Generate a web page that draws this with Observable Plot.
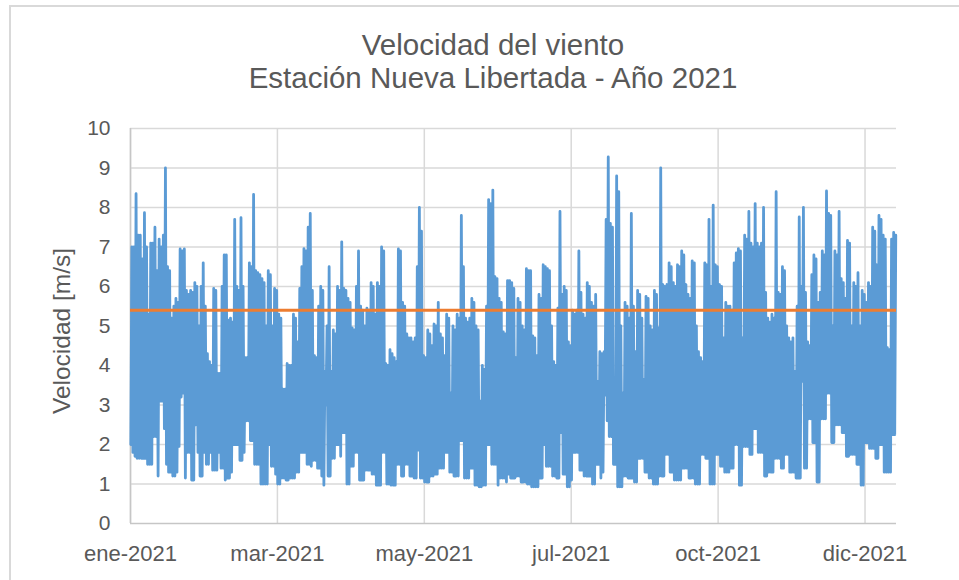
<!DOCTYPE html>
<html>
<head>
<meta charset="utf-8">
<script src="https://cdn.jsdelivr.net/npm/d3@7"></script>
<script src="https://cdn.jsdelivr.net/npm/@observablehq/plot@0.6"></script>
<style>
  html, body { margin: 0; padding: 0; background: #ffffff; }
  #wrap { position: relative; width: 959px; height: 580px; overflow: hidden; font-family: "Liberation Sans", Arial, sans-serif; }
  #frame { position: absolute; left: 9px; top: 5px; width: 1000px; height: 700px; border-left: 2px solid #d9d9d9; border-top: 2px solid #d9d9d9; }
  #title { position: absolute; left: 0; top: 28px; width: 986px; text-align: center; color: #595959; font-size: 29.5px; line-height: 33px; }
  #chart { position: absolute; left: 0; top: 0; }
</style>
</head>
<body>
<div id="wrap">
  <div id="frame"></div>
  <div id="chart"></div>
  <div id="title">Velocidad del viento<br>Estación Nueva Libertada - Año 2021</div>
</div>
<script>
// ---- data ----
const year = 2021;
// daily maximum wind speed [m/s], day 0 = 1 Jan 2021
const dailyHigh = [
  7.0, 7.0, 8.35, 7.3, 7.3, 6.7, 7.87, 7.0, 5.3, 7.1,
  7.1, 7.5, 6.4, 7.2, 7.0, 7.3, 9.0, 6.5, 6.4, 5.2,
  5.5, 5.7, 5.6, 6.95, 6.9, 6.95, 5.9, 5.8, 5.9, 5.85,
  6.1, 6.0, 5.0, 6.0, 6.6, 5.5, 4.3, 4.1, 4.0, 5.95,
  5.9, 3.8, 3.8, 6.0, 6.8,
  6.8, 5.15, 5.2, 5.1, 7.7, 6.0, 5.9, 7.74, 6.0, 4.2,
  4.2, 6.6, 6.5, 8.33, 6.4, 6.35, 6.3, 6.2, 6.1, 5.0,
  6.4, 6.3, 5.0, 5.95, 5.9, 5.3, 5.2, 3.4, 3.4, 4.05,
  4.0, 4.0, 5.3, 5.2, 4.6, 5.95, 6.5, 6.96, 6.9, 7.5,
  7.85, 5.9, 4.25, 4.2, 5.5,
  6.0, 5.9, 3.85, 5.0, 6.5, 3.85, 4.9, 4.8, 6.0, 5.9,
  7.13, 5.95, 5.9, 5.7, 5.6, 4.95, 4.9, 6.0, 6.9, 5.5,
  5.4, 5.0, 5.45, 5.4, 6.1, 6.0, 5.3, 6.1, 6.0, 7.0,
  6.9, 4.05, 4.0, 4.4, 4.3, 4.2, 4.1, 6.95, 6.9, 5.6,
  5.5, 4.8, 4.7, 4.7, 4.6,
  4.7, 6.5, 8.0, 7.4, 4.25, 4.2, 4.9, 4.8, 4.5, 5.05,
  5.0, 5.6, 4.8, 4.7, 4.25, 5.3, 5.2, 3.3, 5.0, 4.9,
  5.3, 5.2, 7.8, 6.5, 5.2, 5.1, 5.2, 5.7, 5.6, 5.0,
  4.9, 3.1, 4.0, 3.9, 5.5, 8.2, 8.1, 8.44, 6.25, 6.2,
  5.7, 5.6, 4.85, 4.8, 6.15,
  6.15, 6.1, 5.95, 4.2, 5.7, 5.6, 5.0, 4.9, 6.45, 6.4,
  6.4, 4.75, 4.7, 4.25, 5.8, 5.7, 6.55, 6.5, 6.45, 6.4,
  5.0, 4.1, 4.0, 5.45, 7.9, 5.8, 6.0, 5.9, 4.6, 4.5,
  5.4, 5.3, 5.4, 6.9, 5.85, 5.3, 5.2, 6.1, 6.0, 5.6,
  5.5, 5.8, 3.6, 4.35, 4.3,
  4.35, 7.7, 9.28, 7.6, 7.5, 3.3, 8.8, 8.4, 5.0, 3.3,
  5.6, 5.5, 5.2, 7.85, 5.5, 4.35, 5.9, 5.8, 5.2, 3.65,
  5.75, 5.7, 5.0, 4.9, 5.9, 5.8, 4.95, 9.0, 6.05, 6.0,
  6.05, 6.6, 6.5, 6.1, 6.0, 6.55, 6.5, 6.9, 6.8, 6.05,
  5.8, 5.7, 6.65, 6.6, 5.0,
  4.35, 4.2, 4.1, 6.6, 6.55, 7.7, 6.0, 8.06, 6.55, 6.5,
  6.05, 6.0, 4.7, 5.6, 5.5, 5.5, 5.4, 6.6, 6.85, 6.96,
  6.9, 4.7, 7.3, 7.2, 7.9, 7.1, 7.0, 8.1, 7.1, 7.0,
  7.1, 8.0, 5.85, 5.2, 5.1, 5.3, 5.2, 8.4, 5.85, 5.8,
  6.5, 6.4, 5.0, 4.7, 4.6,
  4.7, 3.85, 5.5, 7.76, 6.0, 8.0, 5.85, 4.6, 4.5, 6.3,
  6.8, 6.7, 5.6, 5.85, 6.9, 6.8, 8.42, 7.85, 7.8, 5.0,
  6.9, 6.8, 7.9, 6.2, 6.1, 5.7, 7.17, 7.1, 5.0, 6.1,
  6.0, 6.35, 5.0, 5.9, 5.8, 5.6, 6.1, 6.0, 7.5, 7.4,
  6.55, 7.8, 7.7, 7.3, 7.2, 4.45, 4.4, 7.2, 7.37, 7.3
];
// daily minimum wind speed [m/s]
const dailyLow = [
  2.0, 1.8, 1.7, 1.65, 1.65, 1.65, 1.65, 1.65, 1.5, 1.5,
  1.5, 2.2, 2.2, 1.2, 3.1, 3.1, 2.4, 1.5, 1.3, 1.3,
  1.2, 1.2, 1.3, 1.95, 3.2, 3.3, 1.15, 1.8, 1.8, 1.1,
  1.1, 2.5, 1.8, 1.2, 1.2, 1.8, 1.5, 1.5, 1.8, 1.35,
  1.35, 1.35, 1.8, 1.4, 1.4,
  1.1, 1.15, 1.15, 1.3, 2.0, 2.0, 2.0, 1.6, 1.6, 1.8,
  2.6, 2.6, 2.1, 2.1, 1.5, 1.5, 1.5, 1.0, 1.0, 1.0,
  1.0, 2.0, 1.45, 1.45, 1.25, 1.0, 1.0, 1.15, 1.15, 1.1,
  1.1, 1.15, 1.15, 1.15, 1.3, 1.3, 1.8, 1.8, 1.8, 1.5,
  1.5, 1.45, 1.6, 1.6, 1.4,
  1.4, 1.2, 0.97, 3.0, 1.2, 1.2, 1.65, 1.65, 2.0, 2.0,
  1.7, 2.3, 2.3, 1.0, 1.0, 1.45, 1.45, 1.8, 1.8, 1.1,
  1.1, 1.1, 1.35, 1.35, 1.35, 1.25, 1.25, 0.97, 0.97, 0.97,
  1.8, 1.8, 1.0, 1.0, 0.97, 0.97, 0.97, 1.5, 1.5, 1.2,
  1.2, 1.5, 1.5, 1.2, 1.2,
  1.15, 1.15, 1.86, 1.15, 1.15, 1.05, 1.05, 1.05, 1.2, 1.2,
  1.25, 1.25, 1.4, 1.4, 1.4, 1.8, 1.8, 1.3, 1.3, 1.2,
  1.2, 1.2, 2.1, 2.1, 1.15, 1.15, 1.15, 1.4, 1.4, 0.97,
  0.97, 0.93, 0.93, 0.97, 0.97, 2.0, 2.0, 1.5, 1.5, 1.5,
  0.97, 1.15, 1.15, 1.15, 1.05,
  1.25, 1.15, 1.15, 1.15, 1.2, 1.2, 1.05, 1.05, 1.05, 1.0,
  1.0, 0.93, 0.93, 0.93, 0.93, 1.15, 1.15, 2.0, 1.45, 1.45,
  1.45, 1.2, 1.2, 1.15, 1.15, 2.3, 1.25, 1.25, 0.93, 0.93,
  1.1, 1.8, 1.8, 1.8, 1.35, 1.35, 1.2, 1.2, 1.2, 1.2,
  1.0, 1.0, 1.5, 1.5, 1.15,
  1.3, 3.25, 2.6, 2.2, 2.2, 1.5, 1.5, 0.93, 0.93, 0.93,
  1.2, 1.2, 1.15, 1.15, 1.15, 1.05, 1.05, 1.65, 1.65, 1.65,
  1.3, 1.3, 1.15, 1.15, 1.0, 1.0, 1.0, 1.2, 1.2, 1.2,
  1.75, 1.75, 1.3, 1.3, 1.1, 1.1, 1.1, 1.1, 1.4, 1.4,
  1.4, 1.15, 1.15, 1.15, 1.0,
  1.0, 1.0, 1.75, 1.75, 1.65, 1.65, 1.0, 1.0, 1.0, 1.75,
  1.75, 1.45, 1.45, 1.3, 1.3, 1.3, 1.4, 1.4, 2.0, 2.0,
  0.97, 0.97, 1.95, 1.95, 1.95, 1.75, 1.75, 2.4, 2.4, 1.8,
  1.8, 1.8, 1.2, 1.2, 1.3, 1.3, 1.3, 1.65, 1.65, 1.65,
  1.4, 1.4, 1.75, 1.75, 1.3,
  1.3, 1.3, 1.15, 1.15, 1.15, 3.6, 1.4, 1.4, 2.65, 2.65,
  2.05, 2.05, 1.05, 1.05, 2.65, 2.65, 2.65, 3.3, 3.3, 2.05,
  2.05, 2.5, 2.5, 2.5, 2.3, 2.3, 1.7, 1.7, 1.75, 1.75,
  1.75, 1.5, 1.5, 0.97, 0.97, 2.05, 2.05, 1.9, 1.9, 1.9,
  1.65, 1.65, 2.0, 2.0, 1.3, 1.3, 1.3, 1.3, 2.25, 2.25
];
// constant reference (mean) line
const meanSpeed = 5.4;
// axis ticks
const yTicks = [0, 1, 2, 3, 4, 5, 6, 7, 8, 9, 10];
const xTickDates = ["2021-01-01", "2021-03-12", "2021-05-21", "2021-07-30", "2021-10-08", "2021-12-17"];
const xTickLabels = ["ene-2021", "mar-2021", "may-2021", "jul-2021", "oct-2021", "dic-2021"];
const yLabel = "Velocidad [m/s]";

// ---- build table ----
const DAY = 864e5;
const t0 = Date.UTC(year, 0, 1);
const series = [];
for (let d = 0; d < dailyHigh.length; d++) {
  series.push({date: new Date(t0 + (d + 0.15) * DAY), v: dailyLow[d]});
  series.push({date: new Date(t0 + (d + 0.65) * DAY), v: dailyHigh[d]});
}
const tickDates = xTickDates.map(s => new Date(s + "T00:00:00Z"));
const labelOf = new Map(tickDates.map((d, i) => [+d, xTickLabels[i]]));

const chart = Plot.plot({
  width: 959,
  height: 580,
  marginLeft: 130,
  marginRight: 63,
  marginTop: 128,
  marginBottom: 57,
  style: {fontFamily: '"Liberation Sans", Arial, sans-serif', color: "#595959", background: "transparent", overflow: "visible"},
  x: {type: "utc", domain: [new Date(t0), new Date(Date.UTC(year + 1, 0, 1))]},
  y: {domain: [0, 10]},
  marks: [
    Plot.gridY(yTicks.slice(1), {stroke: "#d9d9d9", strokeOpacity: 1, strokeWidth: 1.5}),
    Plot.gridX(tickDates, {stroke: "#d9d9d9", strokeOpacity: 1, strokeWidth: 1.5}),
    Plot.ruleX([tickDates[0]], {stroke: "#c6c6c6", strokeWidth: 1.5}),
    Plot.ruleY([0], {stroke: "#c6c6c6", strokeWidth: 1.5}),
    Plot.axisY(yTicks, {tickSize: 0, tickPadding: 20, fontSize: 21, label: null}),
    Plot.axisX(tickDates, {tickSize: 0, tickPadding: 22, fontSize: 22, label: null, tickFormat: d => labelOf.get(+d)}),
    Plot.text([yLabel], {frameAnchor: "left", dx: -68, dy: 5, rotate: -90, text: d => d, fontSize: 24.5, textAnchor: "middle", lineAnchor: "middle", fill: "#595959"}),
    Plot.lineY(series, {x: "date", y: "v", stroke: "#5b9bd5", strokeWidth: 2.8, strokeLinejoin: "round"}),
    Plot.ruleY([meanSpeed], {stroke: "#ed7d31", strokeWidth: 3})
  ]
});
document.getElementById("chart").appendChild(chart);
</script>
</body>
</html>
